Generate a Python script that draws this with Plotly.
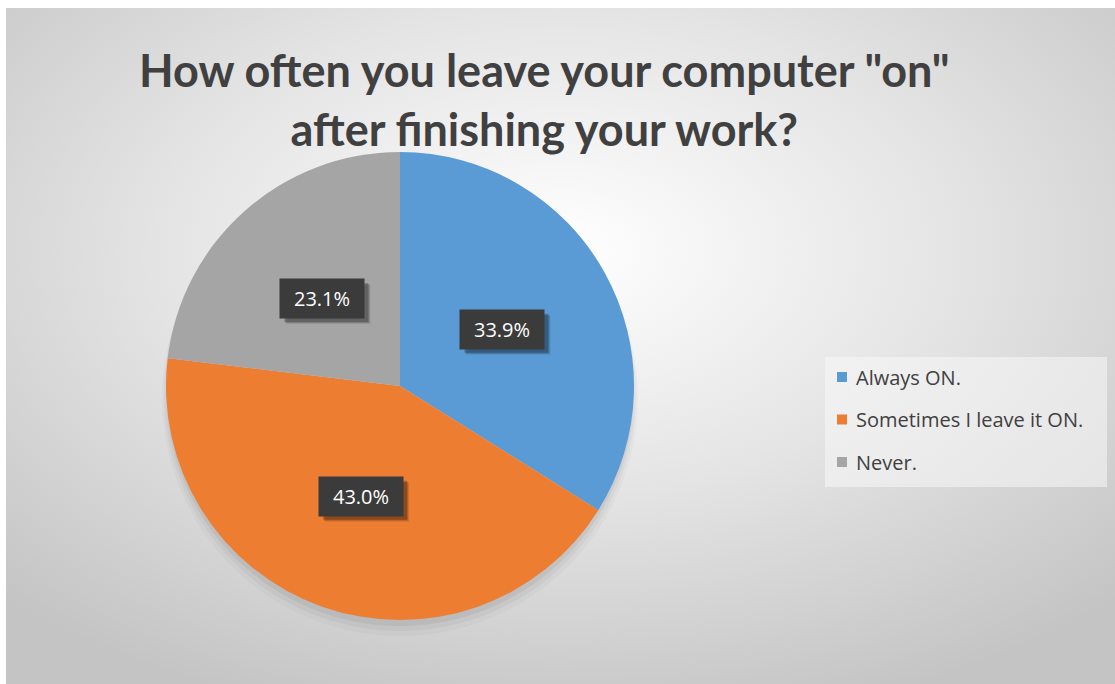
import base64
import math
import plotly.graph_objects as go

# Survey answers and their shares (%)
labels = ["Always ON.", "Sometimes I leave it ON.", "Never."]
shares = [33.9, 43.0, 23.1]
colors = ["#5B9BD5", "#ED7D31", "#A5A5A5"]
title_lines = ['How often you leave your computer "on"', "after finishing your work?"]

W, H = 1115, 684
CX, CY, R = 400, 386, 234          # pie centre / radius in px
FRAME_X, FRAME_Y = 6, 8            # chart area top-left corner


def px(x):
    return x / W


def py(y):
    return 1 - y / H


# Radial grey background used by the chart area
bg_svg = (
    '<svg xmlns="http://www.w3.org/2000/svg" width="1109" height="676">'
    '<defs><radialGradient id="g" cx="50%" cy="36%" r="72%">'
    '<stop offset="0" stop-color="#ffffff"/>'
    '<stop offset="0.5" stop-color="#e4e4e4"/>'
    '<stop offset="1" stop-color="#c4c4c4"/>'
    '</radialGradient></defs>'
    '<rect width="1109" height="676" fill="url(#g)"/></svg>'
)
bg_uri = "data:image/svg+xml;base64," + base64.b64encode(bg_svg.encode()).decode()

fig = go.Figure()
fig.add_trace(go.Pie(
    labels=labels,
    values=shares,
    sort=False,
    direction="clockwise",
    rotation=0,
    marker=dict(colors=colors, line=dict(width=0)),
    textinfo="none",
    hoverinfo="label+percent",
    showlegend=False,
    domain=dict(x=[px(CX - R), px(CX + R)], y=[py(CY + R), py(CY - R)]),
))

shapes = []
annotations = []

# soft shadow under the pie
for grow, dy, alpha in [(4, 12, 0.025), (2, 9, 0.035), (0, 6, 0.05)]:
    shapes.append(dict(
        type="circle", xref="paper", yref="paper", layer="below",
        x0=px(CX - R - grow), x1=px(CX + R + grow),
        y0=py(CY + R + grow + dy), y1=py(CY - R - grow + dy),
        fillcolor=f"rgba(0,0,0,{alpha})", line=dict(width=0),
    ))

# data labels placed halfway out along each slice's mid-angle
total = sum(shares)
start = 0.0
BW, BH = 84, 39
for val in shares:
    sweep = 360 * val / total
    mid = math.radians(start + sweep / 2)
    start += sweep
    lx = CX + 0.5 * R * math.sin(mid)
    ly = CY - 0.5 * R * math.cos(mid)
    for off, alpha in [(6, 0.10), (5, 0.15), (4, 0.22)]:
        shapes.append(dict(
            type="rect", xref="paper", yref="paper", layer="above",
            x0=px(lx - BW / 2 + off), x1=px(lx + BW / 2 + off),
            y0=py(ly + BH / 2 + off), y1=py(ly - BH / 2 + off),
            fillcolor=f"rgba(0,0,0,{alpha})", line=dict(width=0),
        ))
    annotations.append(dict(
        x=px(lx), y=py(ly), xref="paper", yref="paper",
        xanchor="center", yanchor="middle",
        text=f"{val:.1f}%", showarrow=False,
        width=BW - 8, height=BH - 8, borderpad=4,
        bgcolor="#3b3b3b",
        font=dict(family="Open Sans", size=20, color="#ffffff"),
    ))

# title
annotations.append(dict(
    x=px(544), y=py(100), xref="paper", yref="paper",
    xanchor="center", yanchor="middle", showarrow=False,
    text="<b>" + title_lines[0] + "</b><br><b>" + title_lines[1] + "</b>",
    font=dict(family="Lato", size=45, color="#404040"),
))

# legend box with one row per answer
shapes.append(dict(
    type="rect", xref="paper", yref="paper", layer="below",
    x0=px(825), x1=px(1107), y0=py(487), y1=py(357),
    fillcolor="rgba(248,248,248,0.55)", line=dict(width=0),
))
for i, (lab, col) in enumerate(zip(labels, colors)):
    yc = 377 + i * 42.5
    shapes.append(dict(
        type="rect", xref="paper", yref="paper", layer="above",
        x0=px(837), x1=px(847), y0=py(yc + 5), y1=py(yc - 5),
        fillcolor=col, line=dict(width=0),
    ))
    annotations.append(dict(
        x=px(854), y=py(yc), xref="paper", yref="paper",
        xanchor="left", yanchor="middle", showarrow=False,
        text=lab, font=dict(family="Open Sans", size=20, color="#404040"),
    ))

fig.update_layout(
    width=W, height=H,
    margin=dict(l=0, r=0, t=0, b=0),
    paper_bgcolor="#ffffff",
    plot_bgcolor="rgba(0,0,0,0)",
    images=[dict(
        source=bg_uri, xref="paper", yref="paper",
        x=px(FRAME_X), y=py(FRAME_Y), sizex=px(W - FRAME_X), sizey=(H - FRAME_Y) / H,
        xanchor="left", yanchor="top", sizing="stretch", layer="below",
    )],
    shapes=shapes,
    annotations=annotations,
)

fig.write_html("out.html")
